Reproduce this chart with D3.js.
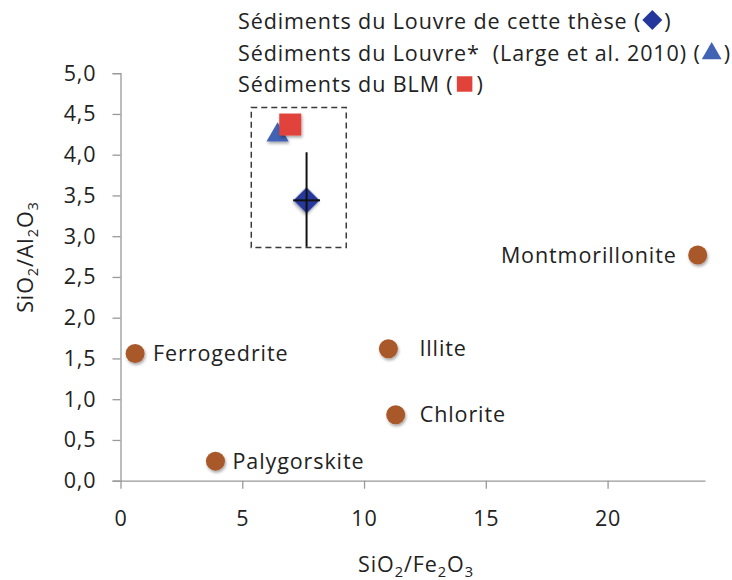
<!DOCTYPE html>
<html>
<head>
<meta charset="utf-8">
<script src="https://cdn.jsdelivr.net/npm/d3@7"></script>
<style>
  html, body { margin: 0; padding: 0; background: #fff; }
  svg { display: block; font-family: "Open Sans", "Noto Sans", sans-serif; }
  text { fill: #222; letter-spacing: 0.9px; }
</style>
</head>
<body>
<svg id="chart" width="732" height="580"></svg>
<script>
// Reference minerals (SiO2/Fe2O3 vs SiO2/Al2O3)
const minerals = ["Ferrogedrite", "Palygorskite", "Illite", "Chlorite", "Montmorillonite"];
const mineralSiFe = [0.6, 3.9, 11.0, 11.3, 23.7];
const mineralSiAl = [1.56, 0.24, 1.62, 0.81, 2.77];

// Louvre sediments (this study): mean with error bars
const louvreSiFe = [7.64];
const louvreSiAl = [3.44];
const louvreSiFeErr = [0.55];
const louvreSiAlLow = [2.87];
const louvreSiAlHigh = [4.03];

// Louvre sediments (Large et al. 2010)
const largeSiFe = [6.45];
const largeSiAl = [4.24];

// BLM sediments
const blmSiFe = [6.97];
const blmSiAl = [4.37];

// Dashed frame around the sediment group
const frameSiFe = [5.37, 9.27];
const frameSiAl = [2.86, 4.58];

// Axes
const xTicks = [0, 5, 10, 15, 20];
const yTicks = [0, 0.5, 1, 1.5, 2, 2.5, 3, 3.5, 4, 4.5, 5];

const legendLabels = [
  "Sédiments du Louvre de cette thèse (",
  "Sédiments du Louvre*  (Large et al. 2010) (",
  "Sédiments du BLM ("
];

const svg = d3.select("#chart");
const FS = 21.5;

const x = d3.scaleLinear().domain([0, 24]).range([120.5, 705]);
const y = d3.scaleLinear().domain([0, 5]).range([480.7, 73.2]);

const colors = { mineral: "#A9582A", diamond: "#25379A", triangle: "#4262B4", square: "#E1423A" };

// soft drop shadow under markers
const defs = svg.append("defs");
defs.append("filter").attr("id", "shadow")
  .attr("x", "-50%").attr("y", "-50%").attr("width", "200%").attr("height", "200%")
  .append("feDropShadow")
  .attr("dx", 1).attr("dy", 2).attr("stdDeviation", 1.4)
  .attr("flood-color", "#000").attr("flood-opacity", 0.35);

// Y axis
const yAxis = d3.axisLeft(y).tickValues(yTicks).tickSize(8).tickPadding(16)
  .tickFormat(d => d3.format(".1f")(d).replace(".", ","));
const gy = svg.append("g").attr("transform", `translate(${x(0)},0)`).call(yAxis);
gy.select(".domain").attr("stroke", "#999").attr("stroke-width", 1.3);
gy.selectAll(".tick line").attr("stroke", "#999").attr("stroke-width", 1.3);
gy.selectAll(".tick text").attr("font-size", FS).attr("fill", "#222")
  .attr("font-family", "Open Sans");

// X axis
const xAxis = d3.axisBottom(x).tickValues(xTicks).tickSize(8).tickPadding(22)
  .tickSizeOuter(0);
const gx = svg.append("g").attr("transform", `translate(0,${y(0)})`).call(xAxis);
gx.select(".domain").attr("stroke", "#999").attr("stroke-width", 1.3);
gx.selectAll(".tick line").attr("stroke", "#999").attr("stroke-width", 1.3);
gx.selectAll(".tick text").attr("font-size", FS).attr("fill", "#222")
  .attr("font-family", "Open Sans");

// Axis titles with subscripts
function chemTitle(g, parts) {
  parts.forEach(p => {
    const t = g.append("tspan").text(p.t);
    if (p.sub) t.attr("font-size", FS * 0.68).attr("dy", 5);
    else if (p.after) t.attr("dy", -5);
  });
}
const xt = svg.append("text").attr("x", 416).attr("y", 572)
  .attr("text-anchor", "middle").attr("font-size", FS);
chemTitle(xt, [{t: "SiO"}, {t: "2", sub: true}, {t: "/Fe", after: true}, {t: "2", sub: true},
  {t: "O", after: true}, {t: "3", sub: true}]);

const yt = svg.append("text").attr("transform", "translate(33,257) rotate(-90)")
  .attr("text-anchor", "middle").attr("font-size", FS);
chemTitle(yt, [{t: "SiO"}, {t: "2", sub: true}, {t: "/Al", after: true}, {t: "2", sub: true},
  {t: "O", after: true}, {t: "3", sub: true}]);

// Dashed frame
svg.append("rect")
  .attr("x", x(frameSiFe[0])).attr("y", y(frameSiAl[1]))
  .attr("width", x(frameSiFe[1]) - x(frameSiFe[0]))
  .attr("height", y(frameSiAl[0]) - y(frameSiAl[1]))
  .attr("fill", "none").attr("stroke", "#3a3a3a").attr("stroke-width", 1.5)
  .attr("stroke-dasharray", "6,4");

// Minerals
const labelDx = [18, 17, 31, 24, -21];
const labelAnchor = ["start", "start", "start", "start", "end"];
const mg = svg.append("g");
mg.selectAll("circle").data(minerals).join("circle")
  .attr("cx", (d, i) => x(mineralSiFe[i]))
  .attr("cy", (d, i) => y(mineralSiAl[i]))
  .attr("r", 9.5)
  .attr("fill", colors.mineral)
  .attr("filter", "url(#shadow)");
mg.selectAll("text").data(minerals).join("text")
  .attr("x", (d, i) => x(mineralSiFe[i]) + labelDx[i])
  .attr("y", (d, i) => y(mineralSiAl[i]))
  .attr("dy", "0.36em")
  .attr("text-anchor", (d, i) => labelAnchor[i])
  .attr("font-size", FS)
  .text(d => d);

// Large et al. 2010 (triangle)
svg.selectAll(".tri").data(largeSiFe).join("path").attr("class", "tri")
  .attr("transform", (d, i) => `translate(${x(d)},${y(largeSiAl[i])})`)
  .attr("d", d3.symbol(d3.symbolTriangle, 215)())
  .attr("fill", colors.triangle).attr("filter", "url(#shadow)");

// BLM (square)
svg.selectAll(".sq").data(blmSiFe).join("path").attr("class", "sq")
  .attr("transform", (d, i) => `translate(${x(d)},${y(blmSiAl[i])})`)
  .attr("d", d3.symbol(d3.symbolSquare, 484)())
  .attr("fill", colors.square).attr("filter", "url(#shadow)");

// This study (diamond) with error bars
svg.selectAll(".dia").data(louvreSiFe).join("path").attr("class", "dia")
  .attr("transform", (d, i) => `translate(${x(d)},${y(louvreSiAl[i])}) rotate(45)`)
  .attr("d", d3.symbol(d3.symbolSquare, 340)())
  .attr("fill", colors.diamond).attr("filter", "url(#shadow)");

const eb = svg.append("g").attr("stroke", "#111").attr("stroke-width", 2);
louvreSiFe.forEach((v, i) => {
  eb.append("line")
    .attr("x1", x(v)).attr("x2", x(v))
    .attr("y1", y(louvreSiAlLow[i])).attr("y2", y(louvreSiAlHigh[i]));
  eb.append("line")
    .attr("x1", x(v - louvreSiFeErr[i])).attr("x2", x(v + louvreSiFeErr[i]))
    .attr("y1", y(louvreSiAl[i])).attr("y2", y(louvreSiAl[i]));
});

// Legend: label text, inline marker, closing parenthesis
const legendSymbols = [
  { d: d3.symbol(d3.symbolSquare, 200)(), rot: 45, fill: colors.diamond, dy: 9 },
  { d: d3.symbol(d3.symbolTriangle, 170)(), rot: 0, fill: colors.triangle, dy: 7 },
  { d: d3.symbol(d3.symbolSquare, 240)(), rot: 0, fill: colors.square, dy: 8 }
];
const lg = svg.append("g");
legendLabels.forEach((lab, i) => {
  const by = 29 + i * 31.5;
  const t = lg.append("text").attr("x", 238).attr("y", by)
    .attr("font-size", FS).style("white-space", "pre").text(lab);
  const end = 238 + t.node().getComputedTextLength();
  lg.append("path").attr("d", legendSymbols[i].d)
    .attr("transform", `translate(${end + 11},${by - legendSymbols[i].dy}) rotate(${legendSymbols[i].rot})`)
    .attr("fill", legendSymbols[i].fill);
  lg.append("text").attr("x", end + 23).attr("y", by)
    .attr("font-size", FS).text(")");
});
</script>
</body>
</html>
